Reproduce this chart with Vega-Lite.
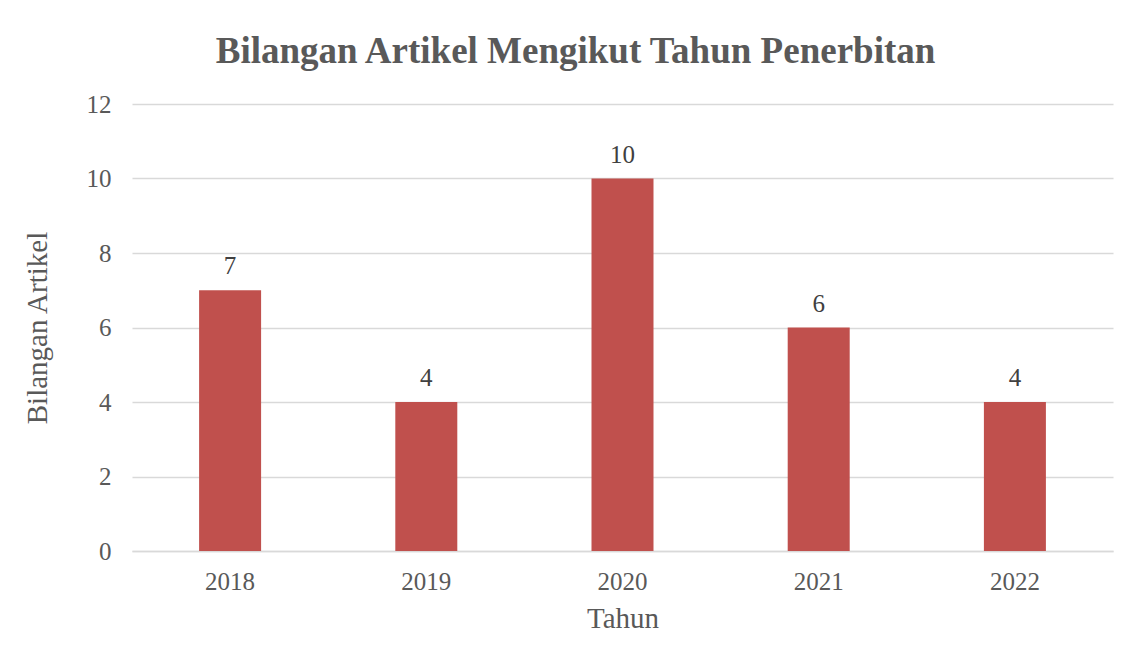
{
  "$schema": "https://vega.github.io/schema/vega-lite/v6.json",
  "width": 981,
  "height": 447,
  "autosize": {"type": "none"},
  "padding": {"left": 132, "top": 104, "right": 21, "bottom": 110},
  "background": "white",
  "title": {
    "text": "Bilangan Artikel Mengikut Tahun Penerbitan",
    "font": "Liberation Serif",
    "fontSize": 37,
    "fontWeight": "bold",
    "color": "#595959",
    "anchor": "middle",
    "offset": 21,
    "dx": -47
  },
  "data": {
    "values": [
      {"Tahun": "2018", "Bilangan": 7},
      {"Tahun": "2019", "Bilangan": 4},
      {"Tahun": "2020", "Bilangan": 10},
      {"Tahun": "2021", "Bilangan": 6},
      {"Tahun": "2022", "Bilangan": 4}
    ]
  },
  "config": {
    "view": {"stroke": null},
    "axis": {
      "labelFont": "Liberation Serif",
      "labelFontSize": 25,
      "labelColor": "#595959",
      "titleFont": "Liberation Serif",
      "titleFontSize": 29,
      "titleFontWeight": "normal",
      "titleColor": "#595959"
    }
  },
  "encoding": {
    "x": {
      "field": "Tahun",
      "type": "nominal",
      "scale": {"paddingInner": 0.684, "paddingOuter": 0.342},
      "axis": {
        "labelAngle": 0,
        "ticks": false,
        "domainColor": "#D9D9D9",
        "domainWidth": 1.5,
        "labelPadding": 18,
        "title": "Tahun",
        "titlePadding": 10
      }
    },
    "y": {
      "field": "Bilangan",
      "type": "quantitative",
      "scale": {"domain": [0, 12]},
      "axis": {
        "values": [0, 2, 4, 6, 8, 10, 12],
        "ticks": false,
        "domain": false,
        "gridColor": "#D9D9D9",
        "gridWidth": 1.5,
        "labelPadding": 21,
        "title": "Bilangan Artikel",
        "titlePadding": 34
      }
    }
  },
  "layer": [
    {"mark": {"type": "bar", "color": "#C0504D"}},
    {
      "mark": {
        "type": "text",
        "font": "Liberation Serif",
        "fontSize": 25,
        "color": "#404040",
        "dy": -24
      },
      "encoding": {"text": {"field": "Bilangan", "type": "quantitative"}}
    }
  ]
}
